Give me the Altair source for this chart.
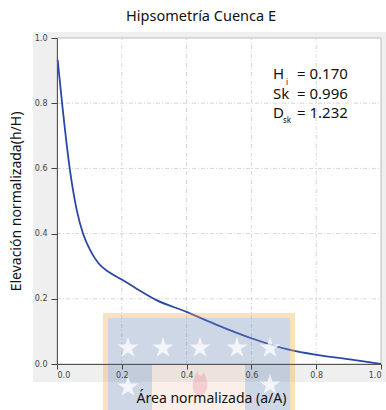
import altair as alt
import pandas as pd

# Normalised hypsometric curve, Cuenca E
area = [0.002, 0.016, 0.04, 0.05, 0.061, 0.081, 0.102, 0.128, 0.16, 0.2,
        0.241, 0.307, 0.4, 0.493, 0.6, 0.719, 0.8, 0.904, 1.0]
elev = [0.933, 0.797, 0.595, 0.53, 0.472, 0.398, 0.35, 0.309, 0.282, 0.259,
        0.234, 0.196, 0.16, 0.12, 0.079, 0.043, 0.028, 0.014, 0.0]

ticks = [0.0, 0.2, 0.4, 0.6, 0.8, 1.0]
grid_ticks = [0.2, 0.4, 0.6, 0.8]

# Summary statistics
stat_names = ["H", "Sk", "D"]
stat_subs = ["i", "", "sk"]
stat_values = ["0.170", "0.996", "1.232"]

FONT = "Noto Sans"
W, H = 324, 326
TOP = 38


def y_of(px):
    """Convert a page-pixel row into the y data scale."""
    return (TOP + H - px) / H


curve = pd.DataFrame({"area": area, "elev": elev})
one = pd.DataFrame({"k": [0]})
xs = alt.Scale(domain=[0, 1], nice=False, zero=False)
ys = alt.Scale(domain=[0, 1], nice=False, zero=False)

x_axis = alt.Axis(values=ticks, format=".1f", grid=False, zindex=1,
                  labelFont="DejaVu Sans", labelFontSize=8, labelColor="#444",
                  tickColor="#444", tickSize=5, domainColor="#555",
                  labelPadding=2, title="Área normalizada (a/A)",
                  titleFont=FONT, titleFontSize=14, titleFontWeight="normal",
                  titleColor="#111", titleX=154, titleY=38,
                  titleBaseline="alphabetic")
y_axis = alt.Axis(values=ticks, format=".1f", grid=False, zindex=1,
                  labelFont="DejaVu Sans", labelFontSize=8, labelColor="#444",
                  tickColor="#444", tickSize=6, domainColor="#555",
                  labelPadding=4, title="Elevación normalizada(h/H)",
                  titleFont=FONT, titleFontSize=14, titleFontWeight="normal",
                  titleColor="#111", titleX=-41, titleY=163,
                  titleBaseline="middle")

# Grey panel behind the axes
panel = alt.Chart(one).mark_rect(color="#efefef").encode(
    x=alt.value(-24), x2=alt.value(329), y=alt.value(-6), y2=alt.value(344))

# White plotting area with a light frame
frame = alt.Chart(one).mark_rect(fill="white", stroke="#bcbcbc",
                                 strokeWidth=1).encode(
    x=alt.datum(0, scale=xs, axis=x_axis, type="quantitative"),
    x2=alt.datum(1),
    y=alt.datum(0, scale=ys, axis=y_axis, type="quantitative"),
    y2=alt.datum(1))

grid_df = pd.DataFrame({"g": grid_ticks})
vgrid = alt.Chart(grid_df).mark_rule(color="#d6d6d6", strokeDash=[4, 2, 1, 2],
                                     strokeWidth=1).encode(
    x=alt.X("g:Q", scale=xs), y=alt.datum(0), y2=alt.datum(1))
hgrid = alt.Chart(grid_df).mark_rule(color="#d6d6d6", strokeDash=[4, 2, 1, 2],
                                     strokeWidth=1).encode(
    y=alt.Y("g:Q", scale=ys), x=alt.datum(0), x2=alt.datum(1))

line = alt.Chart(curve).mark_line(color="#2c48a6", strokeWidth=1.8,
                                  interpolate="monotone").encode(
    x=alt.X("area:Q", scale=xs, axis=x_axis),
    y=alt.Y("elev:Q", scale=ys, axis=y_axis))

# Statistics block: name, subscript and "= value" per row
stats = pd.DataFrame({
    "name": stat_names, "sub": stat_subs, "val": stat_values,
    "ybase": [y_of(p) for p in (79, 99, 118)],
    "ysub": [y_of(p) for p in (85, 104, 123)],
})
stat_name = alt.Chart(stats).mark_text(font=FONT, fontSize=15, align="left",
                                       baseline="alphabetic", color="#111").encode(
    x=alt.value(216), y=alt.Y("ybase:Q", scale=ys), text="name:N")
stat_sub = alt.Chart(stats).mark_text(font=FONT, fontSize=8, align="center",
                                      baseline="alphabetic", color="#111").encode(
    x=alt.value(230), y=alt.Y("ysub:Q", scale=ys), text="sub:N")
stat_val = alt.Chart(stats).transform_calculate(
    lbl="'=  ' + datum.val").mark_text(font=FONT, fontSize=15, align="left",
                                       baseline="alphabetic", color="#111").encode(
    x=alt.value(240), y=alt.Y("ybase:Q", scale=ys), text="lbl:N")

# Faint crest watermark across the bottom
wm_frame = alt.Chart(one).mark_rect(fill="transparent", stroke="#f0b040",
                                    strokeWidth=5, strokeOpacity=0.35).encode(
    x=alt.value(48.5), x2=alt.value(235.5), y=alt.value(277.5), y2=alt.value(380))
blue = dict(color="#6a86b4", fillOpacity=0.33)
wm_top = alt.Chart(one).mark_rect(**blue).encode(
    x=alt.value(51), x2=alt.value(233), y=alt.value(280), y2=alt.value(327))
wm_left = alt.Chart(one).mark_rect(**blue).encode(
    x=alt.value(51), x2=alt.value(95), y=alt.value(327), y2=alt.value(380))
wm_right = alt.Chart(one).mark_rect(**blue).encode(
    x=alt.value(188), x2=alt.value(233), y=alt.value(327), y2=alt.value(380))
wm_mid = alt.Chart(one).mark_rect(color="#e8b090", fillOpacity=0.2).encode(
    x=alt.value(95), x2=alt.value(188), y=alt.value(327), y2=alt.value(380))
wm_flame = alt.Chart(one).mark_point(
    shape="M0,1 C-0.8,0.6 -0.6,-0.2 -0.2,-1 C-0.1,-0.4 0.2,-0.6 0.3,-0.9 C0.5,-0.3 0.9,0.4 0,1 Z",
    filled=True, color="#e05a80", opacity=0.22, size=700).encode(
    x=alt.value(143), y=alt.value(346))

STAR = ("M0,-1L0.2245,-0.309L0.951,-0.309L0.363,0.118L0.588,0.809L0,0.382"
        "L-0.588,0.809L-0.363,0.118L-0.951,-0.309L-0.2245,-0.309Z")
star_spots = [(71, 310), (106, 310), (143, 310), (180, 310), (213, 310),
              (71, 349), (213, 347)]
stars = [
    alt.Chart(one).mark_point(shape=STAR, filled=True, color="white",
                              opacity=0.75, size=480).encode(
        x=alt.value(sx), y=alt.value(sy))
    for sx, sy in star_spots
]

chart = alt.layer(
    panel, frame, vgrid, hgrid, line, stat_name, stat_sub, stat_val,
    wm_frame, wm_top, wm_left, wm_right, wm_mid, wm_flame, *stars
).properties(
    width=W, height=H, autosize="none",
    padding={"left": 57, "top": TOP, "right": 5, "bottom": 46},
    title=alt.TitleParams("Hipsometría Cuenca E", font=FONT, fontSize=14.5,
                          fontWeight="normal", color="#111", anchor="middle",
                          dx=-18, offset=8),
    background="white",
).configure_view(stroke=None)

chart.save("out.html", embed_options={"renderer": "svg", "actions": False})
